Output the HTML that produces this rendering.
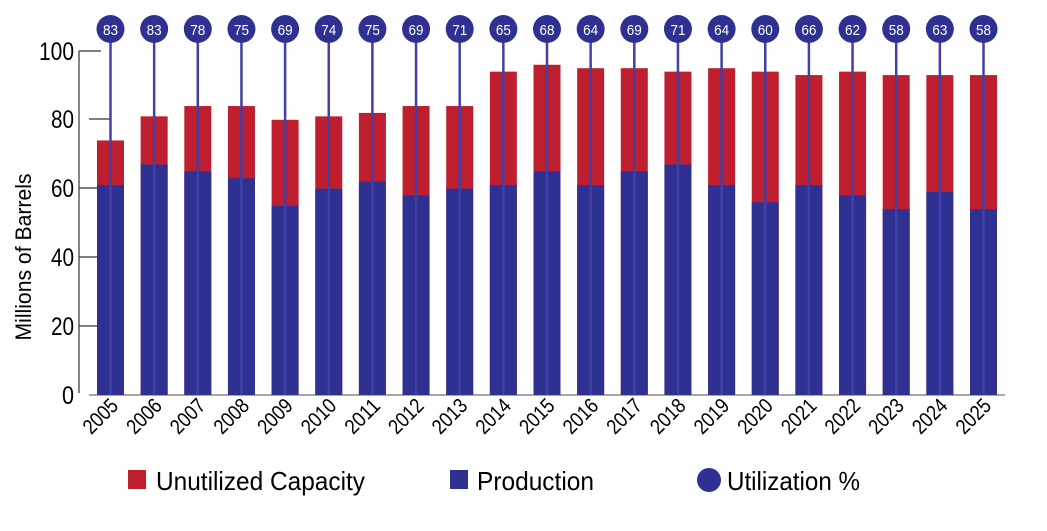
<!DOCTYPE html>
<html><head><meta charset="utf-8"><style>
html,body{margin:0;padding:0;background:#fff;}
svg{display:block;font-family:"Liberation Sans",sans-serif;}
.r{fill:#be1e2d}.b{fill:#2e3192}
.l{stroke:#4040a6;stroke-width:2.5}
.u{font-size:15px;fill:#fff;text-anchor:middle}
.yr{font-size:21px;text-anchor:end}
</style></head><body>
<svg width="1047" height="531" viewBox="0 0 1047 531" xmlns="http://www.w3.org/2000/svg">
<g stroke="#333" stroke-width="1.2">
<line x1="79" y1="51" x2="79" y2="393"/>
<line x1="79" y1="51" x2="101" y2="51"/>
<line x1="89" y1="119" x2="110" y2="119"/>
<line x1="79" y1="188" x2="98" y2="188"/>
<line x1="79" y1="257" x2="98" y2="257"/>
<line x1="79" y1="326" x2="98" y2="326"/>
</g>
<line x1="89" y1="395" x2="1005" y2="395" stroke="#888" stroke-width="1.5"/>
<g font-size="25" text-anchor="end" fill="#000">
<text x="74" y="60" textLength="35" lengthAdjust="spacingAndGlyphs">100</text>
<text x="74" y="128" textLength="23" lengthAdjust="spacingAndGlyphs">80</text>
<text x="74" y="197" textLength="23" lengthAdjust="spacingAndGlyphs">60</text>
<text x="74" y="266" textLength="23" lengthAdjust="spacingAndGlyphs">40</text>
<text x="74" y="335" textLength="23" lengthAdjust="spacingAndGlyphs">20</text>
<text x="74" y="404" textLength="12" lengthAdjust="spacingAndGlyphs">0</text>
</g>
<text transform="translate(31,257) rotate(-90)" font-size="22" text-anchor="middle" textLength="167" lengthAdjust="spacingAndGlyphs">Millions of Barrels</text>

<g transform="translate(110.5,0)"><rect class="r" x="-13.5" y="140.44" width="27" height="254.56"/><rect class="b" x="-13.5" y="185.16" width="27" height="209.84"/><line class="l" x1="0" y1="29" x2="0" y2="395"/><circle class="b" cx="0" cy="29" r="14"/><text class="u" y="35" textLength="15" lengthAdjust="spacingAndGlyphs">83</text><text class="yr" transform="translate(9,407) rotate(-45)" textLength="40" lengthAdjust="spacingAndGlyphs">2005</text></g>
<g transform="translate(154.15,0)"><rect class="r" x="-13.5" y="116.36" width="27" height="278.64"/><rect class="b" x="-13.5" y="164.52" width="27" height="230.48"/><line class="l" x1="0" y1="29" x2="0" y2="395"/><circle class="b" cx="0" cy="29" r="14"/><text class="u" y="35" textLength="15" lengthAdjust="spacingAndGlyphs">83</text><text class="yr" transform="translate(9,407) rotate(-45)" textLength="40" lengthAdjust="spacingAndGlyphs">2006</text></g>
<g transform="translate(197.8,0)"><rect class="r" x="-13.5" y="106.04" width="27" height="288.96"/><rect class="b" x="-13.5" y="171.4" width="27" height="223.6"/><line class="l" x1="0" y1="29" x2="0" y2="395"/><circle class="b" cx="0" cy="29" r="14"/><text class="u" y="35" textLength="15" lengthAdjust="spacingAndGlyphs">78</text><text class="yr" transform="translate(9,407) rotate(-45)" textLength="40" lengthAdjust="spacingAndGlyphs">2007</text></g>
<g transform="translate(241.45,0)"><rect class="r" x="-13.5" y="106.04" width="27" height="288.96"/><rect class="b" x="-13.5" y="178.28" width="27" height="216.72"/><line class="l" x1="0" y1="29" x2="0" y2="395"/><circle class="b" cx="0" cy="29" r="14"/><text class="u" y="35" textLength="15" lengthAdjust="spacingAndGlyphs">75</text><text class="yr" transform="translate(9,407) rotate(-45)" textLength="40" lengthAdjust="spacingAndGlyphs">2008</text></g>
<g transform="translate(285.1,0)"><rect class="r" x="-13.5" y="119.8" width="27" height="275.2"/><rect class="b" x="-13.5" y="205.8" width="27" height="189.2"/><line class="l" x1="0" y1="29" x2="0" y2="395"/><circle class="b" cx="0" cy="29" r="14"/><text class="u" y="35" textLength="15" lengthAdjust="spacingAndGlyphs">69</text><text class="yr" transform="translate(9,407) rotate(-45)" textLength="40" lengthAdjust="spacingAndGlyphs">2009</text></g>
<g transform="translate(328.75,0)"><rect class="r" x="-13.5" y="116.36" width="27" height="278.64"/><rect class="b" x="-13.5" y="188.6" width="27" height="206.4"/><line class="l" x1="0" y1="29" x2="0" y2="395"/><circle class="b" cx="0" cy="29" r="14"/><text class="u" y="35" textLength="15" lengthAdjust="spacingAndGlyphs">74</text><text class="yr" transform="translate(9,407) rotate(-45)" textLength="40" lengthAdjust="spacingAndGlyphs">2010</text></g>
<g transform="translate(372.4,0)"><rect class="r" x="-13.5" y="112.92" width="27" height="282.08"/><rect class="b" x="-13.5" y="181.72" width="27" height="213.28"/><line class="l" x1="0" y1="29" x2="0" y2="395"/><circle class="b" cx="0" cy="29" r="14"/><text class="u" y="35" textLength="15" lengthAdjust="spacingAndGlyphs">75</text><text class="yr" transform="translate(9,407) rotate(-45)" textLength="40" lengthAdjust="spacingAndGlyphs">2011</text></g>
<g transform="translate(416.05,0)"><rect class="r" x="-13.5" y="106.04" width="27" height="288.96"/><rect class="b" x="-13.5" y="195.48" width="27" height="199.52"/><line class="l" x1="0" y1="29" x2="0" y2="395"/><circle class="b" cx="0" cy="29" r="14"/><text class="u" y="35" textLength="15" lengthAdjust="spacingAndGlyphs">69</text><text class="yr" transform="translate(9,407) rotate(-45)" textLength="40" lengthAdjust="spacingAndGlyphs">2012</text></g>
<g transform="translate(459.7,0)"><rect class="r" x="-13.5" y="106.04" width="27" height="288.96"/><rect class="b" x="-13.5" y="188.6" width="27" height="206.4"/><line class="l" x1="0" y1="29" x2="0" y2="395"/><circle class="b" cx="0" cy="29" r="14"/><text class="u" y="35" textLength="15" lengthAdjust="spacingAndGlyphs">71</text><text class="yr" transform="translate(9,407) rotate(-45)" textLength="40" lengthAdjust="spacingAndGlyphs">2013</text></g>
<g transform="translate(503.35,0)"><rect class="r" x="-13.5" y="71.64" width="27" height="323.36"/><rect class="b" x="-13.5" y="185.16" width="27" height="209.84"/><line class="l" x1="0" y1="29" x2="0" y2="395"/><circle class="b" cx="0" cy="29" r="14"/><text class="u" y="35" textLength="15" lengthAdjust="spacingAndGlyphs">65</text><text class="yr" transform="translate(9,407) rotate(-45)" textLength="40" lengthAdjust="spacingAndGlyphs">2014</text></g>
<g transform="translate(547,0)"><rect class="r" x="-13.5" y="64.76" width="27" height="330.24"/><rect class="b" x="-13.5" y="171.4" width="27" height="223.6"/><line class="l" x1="0" y1="29" x2="0" y2="395"/><circle class="b" cx="0" cy="29" r="14"/><text class="u" y="35" textLength="15" lengthAdjust="spacingAndGlyphs">68</text><text class="yr" transform="translate(9,407) rotate(-45)" textLength="40" lengthAdjust="spacingAndGlyphs">2015</text></g>
<g transform="translate(590.65,0)"><rect class="r" x="-13.5" y="68.2" width="27" height="326.8"/><rect class="b" x="-13.5" y="185.16" width="27" height="209.84"/><line class="l" x1="0" y1="29" x2="0" y2="395"/><circle class="b" cx="0" cy="29" r="14"/><text class="u" y="35" textLength="15" lengthAdjust="spacingAndGlyphs">64</text><text class="yr" transform="translate(9,407) rotate(-45)" textLength="40" lengthAdjust="spacingAndGlyphs">2016</text></g>
<g transform="translate(634.3,0)"><rect class="r" x="-13.5" y="68.2" width="27" height="326.8"/><rect class="b" x="-13.5" y="171.4" width="27" height="223.6"/><line class="l" x1="0" y1="29" x2="0" y2="395"/><circle class="b" cx="0" cy="29" r="14"/><text class="u" y="35" textLength="15" lengthAdjust="spacingAndGlyphs">69</text><text class="yr" transform="translate(9,407) rotate(-45)" textLength="40" lengthAdjust="spacingAndGlyphs">2017</text></g>
<g transform="translate(677.95,0)"><rect class="r" x="-13.5" y="71.64" width="27" height="323.36"/><rect class="b" x="-13.5" y="164.52" width="27" height="230.48"/><line class="l" x1="0" y1="29" x2="0" y2="395"/><circle class="b" cx="0" cy="29" r="14"/><text class="u" y="35" textLength="15" lengthAdjust="spacingAndGlyphs">71</text><text class="yr" transform="translate(9,407) rotate(-45)" textLength="40" lengthAdjust="spacingAndGlyphs">2018</text></g>
<g transform="translate(721.6,0)"><rect class="r" x="-13.5" y="68.2" width="27" height="326.8"/><rect class="b" x="-13.5" y="185.16" width="27" height="209.84"/><line class="l" x1="0" y1="29" x2="0" y2="395"/><circle class="b" cx="0" cy="29" r="14"/><text class="u" y="35" textLength="15" lengthAdjust="spacingAndGlyphs">64</text><text class="yr" transform="translate(9,407) rotate(-45)" textLength="40" lengthAdjust="spacingAndGlyphs">2019</text></g>
<g transform="translate(765.25,0)"><rect class="r" x="-13.5" y="71.64" width="27" height="323.36"/><rect class="b" x="-13.5" y="202.36" width="27" height="192.64"/><line class="l" x1="0" y1="29" x2="0" y2="395"/><circle class="b" cx="0" cy="29" r="14"/><text class="u" y="35" textLength="15" lengthAdjust="spacingAndGlyphs">60</text><text class="yr" transform="translate(9,407) rotate(-45)" textLength="40" lengthAdjust="spacingAndGlyphs">2020</text></g>
<g transform="translate(808.9,0)"><rect class="r" x="-13.5" y="75.08" width="27" height="319.92"/><rect class="b" x="-13.5" y="185.16" width="27" height="209.84"/><line class="l" x1="0" y1="29" x2="0" y2="395"/><circle class="b" cx="0" cy="29" r="14"/><text class="u" y="35" textLength="15" lengthAdjust="spacingAndGlyphs">66</text><text class="yr" transform="translate(9,407) rotate(-45)" textLength="40" lengthAdjust="spacingAndGlyphs">2021</text></g>
<g transform="translate(852.55,0)"><rect class="r" x="-13.5" y="71.64" width="27" height="323.36"/><rect class="b" x="-13.5" y="195.48" width="27" height="199.52"/><line class="l" x1="0" y1="29" x2="0" y2="395"/><circle class="b" cx="0" cy="29" r="14"/><text class="u" y="35" textLength="15" lengthAdjust="spacingAndGlyphs">62</text><text class="yr" transform="translate(9,407) rotate(-45)" textLength="40" lengthAdjust="spacingAndGlyphs">2022</text></g>
<g transform="translate(896.2,0)"><rect class="r" x="-13.5" y="75.08" width="27" height="319.92"/><rect class="b" x="-13.5" y="209.24" width="27" height="185.76"/><line class="l" x1="0" y1="29" x2="0" y2="395"/><circle class="b" cx="0" cy="29" r="14"/><text class="u" y="35" textLength="15" lengthAdjust="spacingAndGlyphs">58</text><text class="yr" transform="translate(9,407) rotate(-45)" textLength="40" lengthAdjust="spacingAndGlyphs">2023</text></g>
<g transform="translate(939.85,0)"><rect class="r" x="-13.5" y="75.08" width="27" height="319.92"/><rect class="b" x="-13.5" y="192.04" width="27" height="202.96"/><line class="l" x1="0" y1="29" x2="0" y2="395"/><circle class="b" cx="0" cy="29" r="14"/><text class="u" y="35" textLength="15" lengthAdjust="spacingAndGlyphs">63</text><text class="yr" transform="translate(9,407) rotate(-45)" textLength="40" lengthAdjust="spacingAndGlyphs">2024</text></g>
<g transform="translate(983.5,0)"><rect class="r" x="-13.5" y="75.08" width="27" height="319.92"/><rect class="b" x="-13.5" y="209.24" width="27" height="185.76"/><line class="l" x1="0" y1="29" x2="0" y2="395"/><circle class="b" cx="0" cy="29" r="14"/><text class="u" y="35" textLength="15" lengthAdjust="spacingAndGlyphs">58</text><text class="yr" transform="translate(9,407) rotate(-45)" textLength="40" lengthAdjust="spacingAndGlyphs">2025</text></g>

<g font-size="26" fill="#000">
<rect x="128" y="470" width="18" height="19" fill="#be1e2d"/>
<text x="156" y="490" textLength="209" lengthAdjust="spacingAndGlyphs">Unutilized Capacity</text>
<rect x="450" y="470" width="18" height="19" fill="#2e3192"/>
<text x="477" y="490" textLength="117" lengthAdjust="spacingAndGlyphs">Production</text>
<circle cx="709" cy="480" r="12" fill="#2e3192"/>
<text x="727" y="490" textLength="133" lengthAdjust="spacingAndGlyphs">Utilization %</text>
</g>
</svg>
</body></html>
